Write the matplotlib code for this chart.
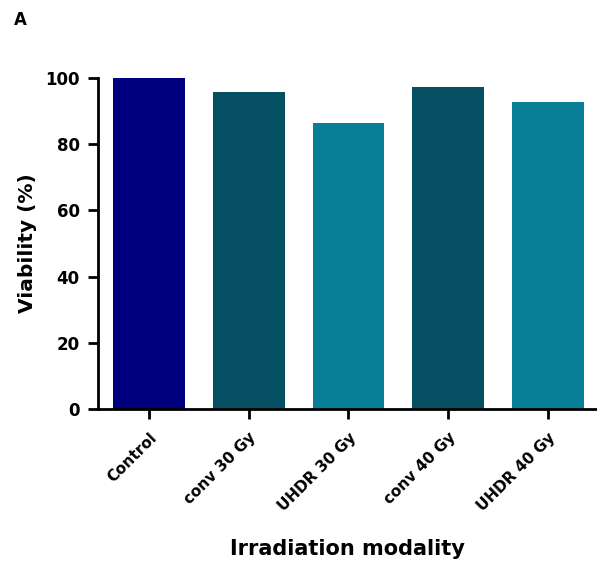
import matplotlib
matplotlib.use("Agg")
import matplotlib.pyplot as plt

categories = ["Control", "conv 30 Gy", "UHDR 30 Gy", "conv 40 Gy", "UHDR 40 Gy"]
viability = [100.0, 95.8, 86.5, 97.3, 92.7]
bar_colors = ["#00007f", "#044f61", "#087f96", "#044f61", "#087f96"]
y_ticks = [0, 20, 40, 60, 80, 100]

plt.rcParams["font.family"] = ["DejaVu Sans"]
plt.rcParams["font.weight"] = "bold"

fig = plt.figure(figsize=(5.97, 5.64), dpi=100)
ax = fig.add_axes([0.164, 0.2748, 0.836, 0.5869])

ax.bar(range(len(categories)), viability, width=0.72, color=bar_colors)
ax.set_xlim(-0.51, 4.49)
ax.set_ylim(0, 100)
ax.set_yticks(y_ticks)
ax.set_xticks(range(len(categories)))
ax.set_xticklabels(categories, rotation=45, ha="right", rotation_mode="anchor",
                   fontsize=11, fontweight="bold")
ax.tick_params(axis="y", labelsize=12, width=2, length=7, pad=6)
ax.tick_params(axis="x", width=2, length=7, pad=8)
for lbl in ax.get_yticklabels():
    lbl.set_fontweight("bold")

for side in ["top", "right"]:
    ax.spines[side].set_visible(False)
for side in ["left", "bottom"]:
    ax.spines[side].set_linewidth(2)

ax.set_ylabel("Viability (%)", fontsize=14.5, fontweight="bold", labelpad=6)
ax.set_xlabel("Irradiation modality", fontsize=15, fontweight="bold", labelpad=18)

fig.text(0.024, 0.964, "A", fontsize=12, fontweight="bold", ha="left", va="center")

fig.savefig("out.png", dpi=100)
